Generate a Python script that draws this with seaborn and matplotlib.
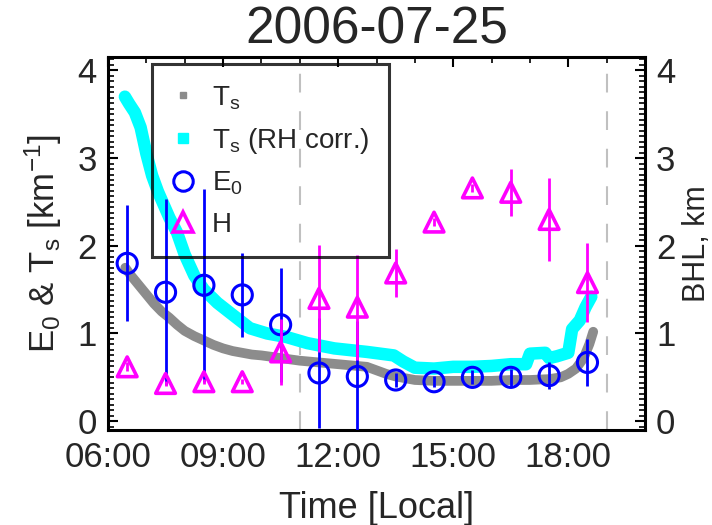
import numpy as np
import pandas as pd
import matplotlib
matplotlib.use("Agg")
import matplotlib.pyplot as plt
from matplotlib.lines import Line2D
from matplotlib.ticker import MultipleLocator
import seaborn as sns

# ---------------- data ----------------
ts_hours = [6.45, 6.6, 6.75, 6.9, 7.05, 7.2, 7.4, 7.6, 7.8, 8.0, 8.25, 8.5, 8.75,
            9.0, 9.25, 9.5, 9.75, 10.0, 10.5, 11.0, 11.5, 12.0, 12.5, 12.75, 13.0,
            13.25, 13.5, 14.0, 14.5, 15.0, 15.5, 16.0, 16.5, 17.0, 17.5, 17.8, 18.0,
            18.2, 18.4, 18.55, 18.65]
ts_vals = [1.75, 1.66, 1.58, 1.50, 1.42, 1.34, 1.25, 1.18, 1.10, 1.03, 0.97, 0.92, 0.87,
           0.83, 0.80, 0.78, 0.76, 0.75, 0.72, 0.69, 0.67, 0.65, 0.63, 0.62, 0.58,
           0.54, 0.51, 0.47, 0.46, 0.46, 0.46, 0.46, 0.47, 0.47, 0.48, 0.50, 0.54,
           0.60, 0.72, 0.88, 1.02]

tsrh_hours = [6.44, 6.55, 6.7, 6.85, 7.0, 7.15, 7.3, 7.45, 7.6, 7.8, 8.0, 8.25, 8.5,
              8.85, 9.2, 9.7, 10.15, 10.65, 11.2, 11.9, 12.75, 13.45, 13.7, 14.0, 14.5,
              15.0, 15.5, 16.0, 16.5, 16.9, 17.0, 17.4, 17.5, 17.7, 18.0, 18.1, 18.3,
              18.45, 18.6]
tsrh_vals = [3.70, 3.62, 3.52, 3.35, 3.05, 2.80, 2.62, 2.47, 2.32, 2.15, 1.90, 1.66, 1.50,
             1.35, 1.23, 1.06, 1.00, 0.96, 0.89, 0.83, 0.79, 0.75, 0.68, 0.61, 0.60,
             0.62, 0.62, 0.63, 0.65, 0.65, 0.77, 0.78, 0.72, 0.74, 0.78, 1.05, 1.15,
             1.30, 1.42]

pt_hours = [6.5, 7.5, 8.5, 9.5, 10.5, 11.5, 12.5, 13.5, 14.5, 15.5, 16.5, 17.5, 18.5]
e0_vals = [1.80, 1.47, 1.55, 1.44, 1.10, 0.55, 0.51, 0.47, 0.45, 0.50, 0.50, 0.52, 0.67]
e0_err = [0.66, 1.06, 1.10, 0.48, 0.65, 0.63, 0.63, 0.08, 0.06, 0.08, 0.10, 0.15, 0.27]
h_vals = [0.62, 0.43, 0.45, 0.45, 0.79, 1.40, 1.30, 1.69, 2.27, 2.66, 2.61, 2.30, 1.58]
h_err = [0.05, 0.03, 0.03, 0.03, 0.38, 0.61, 0.60, 0.27, 0.05, 0.05, 0.27, 0.47, 0.45]

dashed_hours = [11, 19]
xtick_hours = [6, 9, 12, 15, 18]
xtick_labels = ["06:00", "09:00", "12:00", "15:00", "18:00"]
ytick_vals = [0, 1, 2, 3, 4]

title = "2006-07-25"
xlabel = "Time [Local]"
ylabel_left = r"E$_{0}$ & T$_{s}$ [km$^{-1}$]"
ylabel_right = "BHL, km"
legend_labels = [r"T$_{s}$", r"T$_{s}$ (RH corr.)", r"E$_{0}$", "H"]

# ---------------- style ----------------
sns.set_theme(style="white")
plt.rcParams["font.family"] = ["Liberation Sans", "DejaVu Sans"]
plt.rcParams["mathtext.default"] = "regular"

C_GRAY = "#8c8c8c"
C_CYAN = "#00ffff"
C_BLUE = "#0000ff"
C_MAG = "#ff00ff"

fig = plt.figure(figsize=(7.12, 5.25), dpi=100)
ax = fig.add_axes([0.1517, 0.181, 0.7542, 0.710])

df_ts = pd.DataFrame({"hour": ts_hours, "val": ts_vals})
df_rh = pd.DataFrame({"hour": tsrh_hours, "val": tsrh_vals})

sns.lineplot(data=df_ts, x="hour", y="val", ax=ax, color=C_GRAY, lw=7,
             sort=False, estimator=None, zorder=2)
sns.lineplot(data=df_rh, x="hour", y="val", ax=ax, color=C_CYAN, lw=9,
             sort=False, estimator=None, zorder=3)

for h in dashed_hours:
    ax.axvline(h, color="#c0c0c0", lw=1.5, dashes=(9, 9), zorder=1)

ax.errorbar(pt_hours, e0_vals, yerr=e0_err, fmt="none", ecolor=C_BLUE,
            elinewidth=2.0, capsize=0, zorder=4)
sns.scatterplot(x=pt_hours, y=e0_vals, ax=ax, marker="o", s=210,
                facecolor="none", edgecolor=C_BLUE, linewidth=2.2, zorder=5)
ax.errorbar(pt_hours, h_vals, yerr=h_err, fmt="none", ecolor=C_MAG,
            elinewidth=2.0, capsize=0, zorder=6)
sns.scatterplot(x=pt_hours, y=h_vals, ax=ax, marker="^", s=200,
                facecolor="none", edgecolor=C_MAG, linewidth=2.6, zorder=7)

ax.set_xlim(6, 20)
ax.set_ylim(-0.1, 4.15)
ax.set_xticks(xtick_hours)
ax.set_xticklabels(xtick_labels)
ax.xaxis.set_minor_locator(MultipleLocator(1))
ax.set_yticks(ytick_vals)
ax.yaxis.set_minor_locator(MultipleLocator(0.0625))

for s in ax.spines.values():
    s.set_color("black")
    s.set_linewidth(2.2)

ax.tick_params(axis="both", which="both", direction="in", top=True, right=True,
               color="black")
ax.tick_params(axis="both", which="major", length=7, width=1.5, labelsize=25, pad=8)
ax.tick_params(axis="both", which="minor", length=4, width=1.2)
ax.tick_params(axis="y", right=True, labelright=False)

ax2 = ax.twinx()
ax2.set_ylim(ax.get_ylim())
ax2.set_yticks(ytick_vals)
ax2.yaxis.set_minor_locator(MultipleLocator(0.0625))
ax2.tick_params(axis="y", which="both", direction="in", color="black")
ax2.tick_params(axis="y", which="major", length=7, width=1.5, labelsize=25, pad=8)
ax2.tick_params(axis="y", which="minor", length=4, width=1.2)
for s in ax2.spines.values():
    s.set_visible(False)

ax.set_title(title, fontsize=37, pad=10)
ax.set_xlabel(xlabel, fontsize=26, labelpad=12)
ax.set_ylabel(ylabel_left, fontsize=25, labelpad=10)
ax2.set_ylabel(ylabel_right, fontsize=22, labelpad=5)

handles = [
    Line2D([], [], ls="none", marker="s", markersize=5, color=C_GRAY),
    Line2D([], [], ls="none", marker="s", markersize=7, color=C_CYAN),
    Line2D([], [], ls="none", marker="o", markersize=14, markerfacecolor="none",
           markeredgecolor=C_BLUE, markeredgewidth=2.2),
    Line2D([], [], ls="none", marker="^", markersize=14, markerfacecolor="none",
           markeredgecolor=C_MAG, markeredgewidth=2.6),
]
leg = ax.legend(handles, legend_labels, loc="upper left",
                bbox_to_anchor=(0.082, 0.981), borderaxespad=0, fontsize=20,
                frameon=True, fancybox=False, framealpha=None, edgecolor="black",
                labelspacing=0.51, handletextpad=0.64, borderpad=0.71,
                handlelength=0.81)
leg.get_frame().set_linewidth(2.2)
leg.get_frame().set_facecolor("none")
leg.get_frame().set_edgecolor("black")
leg.set_zorder(10)

fig.savefig("out.png", dpi=100)
